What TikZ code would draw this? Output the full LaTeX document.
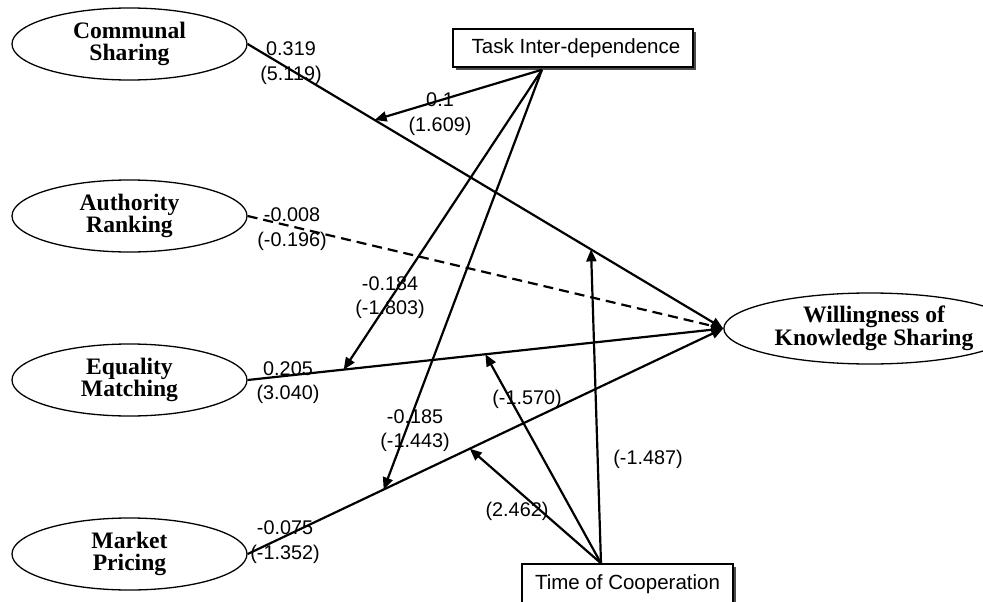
\documentclass[tikz,border=0pt]{standalone}
\usepackage{fontspec}
\setmainfont{Liberation Sans}
\newfontfamily\tnr{Liberation Serif}
\usetikzlibrary{shapes.geometric,arrows.meta,calc,shadows}
\begin{document}
\begin{tikzpicture}[x=1pt,y=-1pt,
  construct/.style={ellipse, draw, line width=1.3pt, minimum width=235pt,
    minimum height=72pt, inner sep=0pt, align=center,
    font=\tnr\bfseries\fontsize{23.6}{21.5}\selectfont},
  factor/.style={rectangle, draw, line width=1.4pt, fill=white, inner sep=0pt,
    font=\fontsize{20.5}{24}\selectfont,
    drop shadow={shadow xshift=3pt, shadow yshift=-3pt, fill=black!70, opacity=1}},
  effect/.style={line width=2.2pt, -{Triangle[length=12pt,width=10pt]}},
  moder/.style={line width=2.2pt, -{Triangle[length=12pt,width=10pt]}},
  coef/.style={align=center, inner sep=0pt, font=\fontsize{19.8}{24.5}\selectfont}
]
\useasboundingbox (0,0) rectangle (983,602);
\clip (0,0) rectangle (983,602);

% latent constructs
\node[construct] (cs) at (129.5,44)  {Communal\\Sharing};
\node[construct] (ar) at (129.5,216) {Authority\\Ranking};
\node[construct] (em) at (129.5,380) {Equality\\Matching};
\node[construct] (mp) at (129.5,554) {Market\\Pricing};
\node[construct, minimum width=226pt, minimum height=71pt] (wk) at (870,328.5)
  {\hspace*{8pt}Willingness of\\\hspace*{8pt}Knowledge Sharing};

% moderators
\node[factor, minimum width=240pt, minimum height=38pt] (ti) at (573,48)
  {\hspace*{6pt}Task Inter-dependence};
\node[factor, minimum width=211pt, minimum height=40pt] (tc) at (627.5,584)
  {Time of Cooperation};

% direct effects
\draw[effect] (cs.east) -- (wk.west)
  coordinate[pos=0.267] (cs1) coordinate[pos=0.722] (cs2);
\draw[effect, dash pattern=on 10pt off 6pt] (ar.east) -- (wk.west);
\draw[effect] (em.east) -- (wk.west)
  coordinate[pos=0.202] (em1) coordinate[pos=0.5] (em2);
\draw[effect] (mp.east) -- (wk.west)
  coordinate[pos=0.286] (mp1) coordinate[pos=0.467] (mp2);

% moderating effects
\coordinate (tio) at ($(ti.south)+(-31,2)$);
\coordinate (tco) at ($(tc.north)+(-26.5,0)$);
\draw[moder] (tio) -- (cs1);
\draw[moder] (tio) -- (em1);
\draw[moder] (tio) -- (mp1);
\draw[moder] (tco) -- (cs2);
\draw[moder] (tco) -- (em2);
\draw[moder] (tco) -- (mp2);

% path coefficients (t-values)
\node[coef] (l1) at (291,63)    {0.319\\(5.119)};
\node[coef] (l2) at (292,229)   {-0.008\\(-0.196)};
\node[coef] (l3) at (288,382.5) {0.205\\(3.040)};
\node[coef] (l4) at (285,542)   {-0.075\\(-1.352)};
\node[coef] (l5) at (440,114)   {0.1\\(1.609)};
\node[coef] (l6) at (390,297.5) {-0.184\\(-1.803)};
\node[coef] (l7) at (415,430.5) {-0.185\\(-1.443)};
\node[coef] (l8) at (527,399)   {(-1.570)};
\node[coef] (l9) at (517,511)   {(2.462)};
\node[coef] (l10) at (648,459)  {(-1.487)};
\end{tikzpicture}
\end{document}
